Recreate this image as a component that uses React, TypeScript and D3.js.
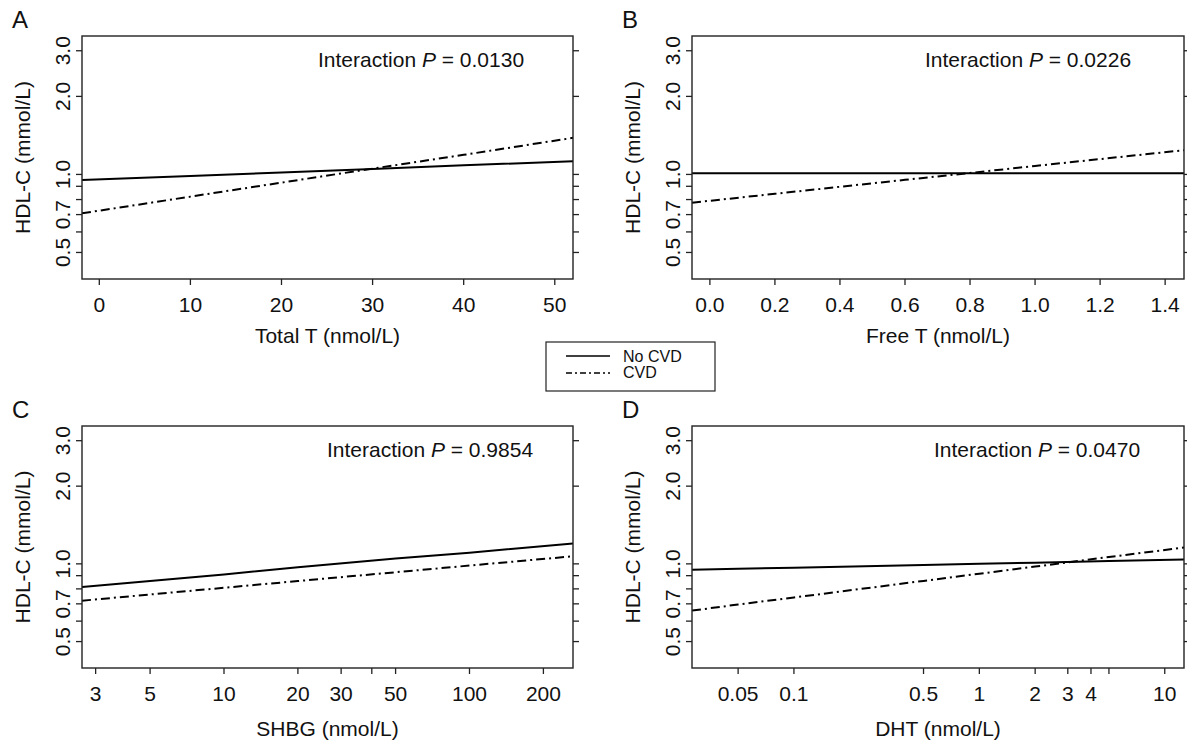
import React from 'react';
import * as d3 from 'd3';

// ---- data ----
const yTicks = [0.5, 0.6, 0.7, 0.8, 0.9, 1.0, 2.0, 3.0];
const yTickLabels = [0.5, 0.7, 1.0, 2.0, 3.0];

const totalT = [-1.9, 10, 20, 30, 40, 52];
const totalTNoCVD = [0.951, 0.987, 1.018, 1.05, 1.084, 1.125];
const totalTCVD = [0.708, 0.821, 0.93, 1.053, 1.19, 1.384];
const totalTTicks = [0, 10, 20, 30, 40, 50];

const freeT = [-0.055, 0.2, 0.4, 0.6, 0.8, 1.0, 1.2, 1.458];
const freeTNoCVD = [1.01, 1.01, 1.01, 1.01, 1.01, 1.01, 1.01, 1.01];
const freeTCVD = [0.778, 0.842, 0.896, 0.953, 1.013, 1.078, 1.146, 1.24];
const freeTTicks = [0, 0.2, 0.4, 0.6, 0.8, 1.0, 1.2, 1.4];

const shbg = [2.64, 5, 10, 20, 50, 100, 264];
const shbgNoCVD = [0.814, 0.859, 0.91, 0.97, 1.048, 1.105, 1.199];
const shbgCVD = [0.72, 0.761, 0.808, 0.858, 0.928, 0.985, 1.07];
const shbgTicks = [3, 5, 10, 20, 30, 40, 50, 100, 200];
const shbgTickLabels = ['3', '5', '10', '20', '30', '', '50', '100', '200'];

const dht = [0.0282, 0.05, 0.1, 0.5, 1, 2, 5, 12.7];
const dhtNoCVD = [0.948, 0.957, 0.966, 0.99, 1.0, 1.011, 1.025, 1.039];
const dhtCVD = [0.659, 0.696, 0.741, 0.859, 0.916, 0.976, 1.063, 1.157];
const dhtTicks = [0.05, 0.1, 0.5, 1, 2, 3, 4, 5, 10];
const dhtTickLabels = ['0.05', '0.1', '0.5', '1', '2', '3', '4', '', '10'];

const pValues = ['0.0130', '0.0226', '0.9854', '0.0470'];
const xTitles = ['Total T (nmol/L)', 'Free T (nmol/L)', 'SHBG (nmol/L)', 'DHT (nmol/L)'];
const letters = ['A', 'B', 'C', 'D'];
const legendLabels = ['No CVD', 'CVD'];

const FONT = '"Liberation Sans", Arial, Helvetica, sans-serif';
const DASH = '9,4,2,4';
const FS = 21;

type PanelDef = {
  letter: string;
  box: [number, number, number, number];
  xs: number[];
  noCVD: number[];
  cvd: number[];
  log: boolean;
  domain: [number, number];
  ticks: number[];
  tickLabels: string[];
  xTitle: string;
  titleY: number;
  p: string;
  pX: number;
};

const panels: PanelDef[] = [
  {
    letter: letters[0], box: [82, 36, 573, 279], xs: totalT, noCVD: totalTNoCVD, cvd: totalTCVD,
    log: false, domain: [-1.9, 52], ticks: totalTTicks, tickLabels: totalTTicks.map(String),
    xTitle: xTitles[0], titleY: 343, p: pValues[0], pX: 318,
  },
  {
    letter: letters[1], box: [692, 36, 1184, 279], xs: freeT, noCVD: freeTNoCVD, cvd: freeTCVD,
    log: false, domain: [-0.055, 1.458], ticks: freeTTicks, tickLabels: freeTTicks.map((d) => d.toFixed(1)),
    xTitle: xTitles[1], titleY: 343, p: pValues[1], pX: 925,
  },
  {
    letter: letters[2], box: [82, 426, 573, 668], xs: shbg, noCVD: shbgNoCVD, cvd: shbgCVD,
    log: true, domain: [2.64, 264], ticks: shbgTicks, tickLabels: shbgTickLabels,
    xTitle: xTitles[2], titleY: 736, p: pValues[2], pX: 327,
  },
  {
    letter: letters[3], box: [692, 426, 1184, 668], xs: dht, noCVD: dhtNoCVD, cvd: dhtCVD,
    log: true, domain: [0.0282, 12.7], ticks: dhtTicks, tickLabels: dhtTickLabels,
    xTitle: xTitles[3], titleY: 736, p: pValues[3], pX: 934,
  },
];

function Panel({ def, idx }: { def: PanelDef; idx: number }) {
  const [x0, y0, x1, y1] = def.box;
  const x = def.log
    ? d3.scaleLog().domain(def.domain).range([x0, x1])
    : d3.scaleLinear().domain(def.domain).range([x0, x1]);
  const y = d3.scaleLog().domain([0.395, 3.42]).range([y1, y0]);
  const line = d3
    .line<number>()
    .x((_, i) => x(def.xs[i]))
    .y((d) => y(d));
  const clipId = `clip${idx}`;
  const axisColor = '#222';
  return (
    <g>
      <defs>
        <clipPath id={clipId}>
          <rect x={x0} y={y0} width={x1 - x0} height={y1 - y0} />
        </clipPath>
      </defs>
      <text x={x0 - 70} y={y0 - 8} fontSize={24} fontFamily={FONT} fill="#111">
        {def.letter}
      </text>
      <g clipPath={`url(#${clipId})`}>
        <path d={line(def.noCVD) || ''} fill="none" stroke="#000" strokeWidth={2} />
        <path d={line(def.cvd) || ''} fill="none" stroke="#000" strokeWidth={2} strokeDasharray={DASH} />
      </g>
      <rect x={x0} y={y0} width={x1 - x0} height={y1 - y0} fill="none" stroke={axisColor} strokeWidth={1.4} />
      {yTicks.map((t) => (
        <g key={'yt' + t}>
          <line x1={x0 - 6} x2={x0} y1={y(t)} y2={y(t)} stroke={axisColor} strokeWidth={1.3} />
          <line x1={x1} x2={x1 + 6} y1={y(t)} y2={y(t)} stroke={axisColor} strokeWidth={1.3} />
        </g>
      ))}
      {yTickLabels.map((t) => (
        <text
          key={'yl' + t}
          transform={`translate(${x0 - 12},${y(t)}) rotate(-90)`}
          textAnchor="middle"
          fontSize={FS}
          fontFamily={FONT}
          fill="#111"
        >
          {t.toFixed(1)}
        </text>
      ))}
      <text
        transform={`translate(${x0 - 52},${(y0 + y1) / 2}) rotate(-90)`}
        textAnchor="middle"
        fontSize={FS}
        fontFamily={FONT}
        fill="#111"
      >
        HDL-C (mmol/L)
      </text>
      {def.ticks.map((t, i) => (
        <g key={'xt' + t}>
          <line x1={x(t)} x2={x(t)} y1={y1} y2={y1 + 6} stroke={axisColor} strokeWidth={1.3} />
          <text x={x(t)} y={y1 + 33} textAnchor="middle" fontSize={FS} fontFamily={FONT} fill="#111">
            {def.tickLabels[i]}
          </text>
        </g>
      ))}
      <text x={(x0 + x1) / 2} y={def.titleY} textAnchor="middle" fontSize={FS} fontFamily={FONT} fill="#111">
        {def.xTitle}
      </text>
      <text x={def.pX} y={y0 + 31} fontSize={FS} fontFamily={FONT} fill="#111">
        Interaction <tspan fontStyle="italic">P</tspan> = {def.p}
      </text>
    </g>
  );
}

export default function App() {
  return (
    <svg
      width={1187}
      height={742}
      style={{ position: 'absolute', left: 0, top: 0, background: '#fff' }}
    >
      <rect x={0} y={0} width={1187} height={742} fill="#fff" />
      {panels.map((p, i) => (
        <Panel key={p.letter} def={p} idx={i} />
      ))}
      <g>
        <rect x={546} y={342} width={169} height={49} fill="#fff" stroke="#222" strokeWidth={1.2} />
        <line x1={566} x2={610} y1={356} y2={356} stroke="#000" strokeWidth={1.5} />
        <line x1={566} x2={610} y1={373} y2={373} stroke="#000" strokeWidth={1.5} strokeDasharray="6,3,2,3" />
        <text x={623} y={362} fontSize={16} fontFamily={FONT} fill="#111">{legendLabels[0]}</text>
        <text x={623} y={378} fontSize={16} fontFamily={FONT} fill="#111">{legendLabels[1]}</text>
      </g>
    </svg>
  );
}
